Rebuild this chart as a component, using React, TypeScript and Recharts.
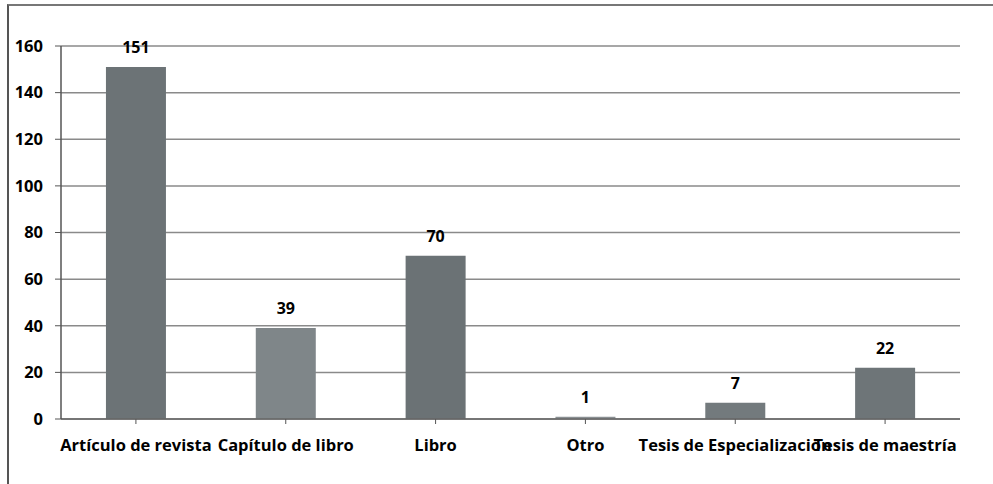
import React from "react";
import { BarChart, Bar, XAxis, YAxis, CartesianGrid, LabelList, Cell } from "recharts";

const categories = [
  "Artículo de revista",
  "Capítulo de libro",
  "Libro",
  "Otro",
  "Tesis de Especialización",
  "Tesis de maestría",
];
const values = [151, 39, 70, 1, 7, 22];
const barColors = ["#6c7376", "#7f8689", "#6b7275", "#8a9093", "#737a7d", "#6e7578"];
const yTicks = [0, 20, 40, 60, 80, 100, 120, 140, 160];

const data = categories.map((name, i) => ({ name, value: values[i] }));

const FONT = "'Open Sans', 'Noto Sans', sans-serif";

export default function App() {
  return (
    <div style={{ position: "absolute", left: 0, top: 0, width: 993, height: 484, background: "#ffffff", overflow: "hidden" }}>
      <div
        style={{
          position: "absolute",
          left: 7,
          top: 4,
          width: 1000,
          height: 500,
          borderLeft: "2px solid #555",
          borderTop: "2px solid #777",
        }}
      />
      <div style={{ position: "absolute", left: 0, top: 0 }}>
        <BarChart
          width={993}
          height={484}
          data={data}
          margin={{ top: 46, right: 33, bottom: 0, left: 0 }}
          barCategoryGap="30%"
        >
          <CartesianGrid vertical={false} stroke="#8a8a8a" strokeWidth={1.5} />
          <XAxis
            dataKey="name"
            height={65}
            interval={0}
            axisLine={{ stroke: "#666", strokeWidth: 1.5 }}
            tickLine={{ stroke: "#555" }}
            tickSize={5}
            tickMargin={15}
            tick={{ fill: "#000", fontSize: 16.5, fontWeight: 700, fontFamily: FONT }}
          />
          <YAxis
            width={61}
            domain={[0, 160]}
            ticks={yTicks}
            interval={0}
            axisLine={{ stroke: "#555", strokeWidth: 1.5 }}
            tickLine={{ stroke: "#555" }}
            tickSize={6}
            tickMargin={12}
            tick={{ fill: "#000", fontSize: 16.5, fontWeight: 700, fontFamily: FONT }}
          />
          <Bar dataKey="value" isAnimationActive={false}>
            {data.map((d, i) => (
              <Cell key={d.name} fill={barColors[i]} />
            ))}
            <LabelList
              dataKey="value"
              position="top"
              offset={14}
              fill="#000"
              fontSize={16}
              fontWeight={700}
              fontFamily={FONT}
            />
          </Bar>
        </BarChart>
      </div>
    </div>
  );
}
